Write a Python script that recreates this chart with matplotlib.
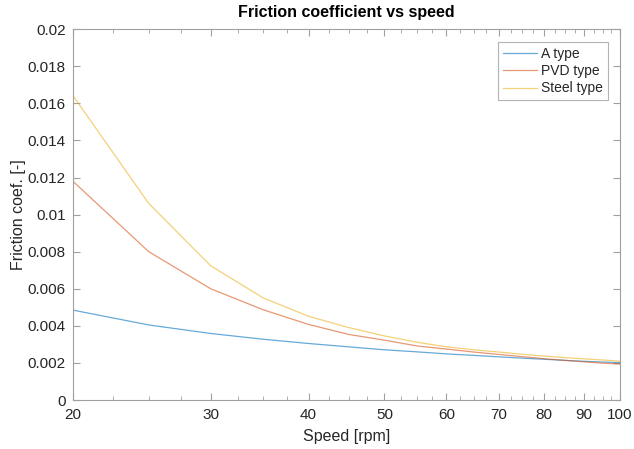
import numpy as np
import matplotlib.pyplot as plt
from matplotlib.ticker import FixedLocator, NullFormatter

plt.rcParams['font.family'] = ['Liberation Sans', 'DejaVu Sans']

# speed points [rpm]
speed = [20, 25, 30, 35, 40, 45, 50, 55, 60, 65, 70, 75, 80, 85, 90, 95, 100]

# friction coefficient for each coating
a_type = [0.00485, 0.00405, 0.00359, 0.00328, 0.00305, 0.00287, 0.00271, 0.00260, 0.00249,
          0.00241, 0.00233, 0.00226, 0.00220, 0.00214, 0.00209, 0.00205, 0.00202]
pvd_type = [0.0118, 0.0080, 0.0060, 0.00487, 0.00408, 0.00354, 0.00323, 0.00292, 0.00275,
            0.00259, 0.00246, 0.00234, 0.00223, 0.00214, 0.00206, 0.00199, 0.00194]
steel_type = [0.01642, 0.0106, 0.00724, 0.00551, 0.00452, 0.00391, 0.00346, 0.00312, 0.00287,
              0.00271, 0.00259, 0.00247, 0.00237, 0.00229, 0.00222, 0.00216, 0.0021]

labels = ['A type', 'PVD type', 'Steel type']
colors = ['#0072BD', '#D95319', '#EDB120']

x_ticks = [20, 30, 40, 50, 60, 70, 80, 90, 100]
y_ticks = np.arange(0, 0.0201, 0.002)

fig = plt.figure(figsize=(6.34, 4.49), dpi=100)
ax = fig.add_axes([0.115, 0.109, 0.863, 0.826])

for y, lab, c in zip([a_type, pvd_type, steel_type], labels, colors):
    ax.plot(speed, y, color=c, lw=0.9, alpha=0.6, label=lab)

ax.set_xscale('log')
ax.set_xlim(20, 100)
ax.set_ylim(0, 0.02)
ax.xaxis.set_major_locator(FixedLocator(x_ticks))
ax.set_xticklabels([str(t) for t in x_ticks])
minors = [v for v in np.arange(22.5, 100, 2.5) if v not in x_ticks]
ax.xaxis.set_minor_locator(FixedLocator(minors))
ax.xaxis.set_minor_formatter(NullFormatter())
ax.set_yticks(y_ticks)
ax.set_yticklabels(['0' if t == 0 else ('%g' % round(t, 3)) for t in y_ticks])

gray = '#262626'
for s in ax.spines.values():
    s.set_color('#a0a0a0')
    s.set_linewidth(0.8)
ax.tick_params(which='both', direction='in', top=True, right=True,
               colors='#a0a0a0', labelcolor=gray, labelsize=11)
ax.tick_params(which='major', length=5)
ax.tick_params(which='minor', length=3)
ax.tick_params(axis='x', pad=6)
ax.tick_params(axis='y', pad=5)

ax.set_xlabel('Speed [rpm]', fontsize=11.5, color=gray, labelpad=5)
ax.set_ylabel('Friction coef. [-]', fontsize=11.5, color=gray, labelpad=1)
ax.set_title('Friction coefficient vs speed', fontsize=11.5, fontweight='bold', pad=9)

leg = ax.legend(loc='upper right', fontsize=10, handlelength=2.4, frameon=True,
                fancybox=False, borderaxespad=0.9, labelspacing=0.25, handletextpad=0.3,
                borderpad=0.35)
leg.get_frame().set_edgecolor('#a0a0a0')
leg.get_frame().set_linewidth(0.8)
for t in leg.get_texts():
    t.set_color(gray)

fig.savefig('out.png', dpi=100)
